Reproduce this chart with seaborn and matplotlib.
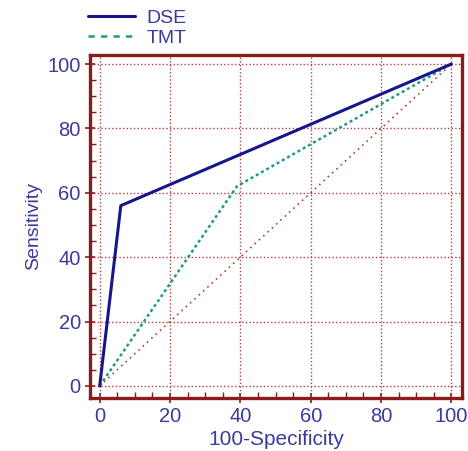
import matplotlib
matplotlib.use("Agg")
import matplotlib.pyplot as plt
import pandas as pd
import seaborn as sns
from matplotlib.ticker import MultipleLocator

# ROC points
dse_x = [0, 6, 100]
dse_y = [0, 56, 100]
tmt_x = [0, 39, 100]
tmt_y = [0, 62, 100]
ref_x = [0, 100]
ref_y = [0, 100]
ticks = [0, 20, 40, 60, 80, 100]

text_col = "#3b3b9c"
frame_col = "#8b1a1a"
grid_col = "#b04040"

sns.set_theme(style="white")
plt.rcParams["font.family"] = ["Liberation Sans", "DejaVu Sans"]

fig = plt.figure(figsize=(4.68, 4.51), dpi=100)
ax = fig.add_axes([0.192, 0.118, 0.795, 0.760])

dse = pd.DataFrame({"x": dse_x, "y": dse_y})
tmt = pd.DataFrame({"x": tmt_x, "y": tmt_y})

ax.plot(ref_x, ref_y, color=grid_col, linestyle=(0, (1, 2.5)), linewidth=1.2)
sns.lineplot(data=tmt, x="x", y="y", ax=ax, color="#1f9a8a",
             linestyle=(0, (1.2, 1.2)), linewidth=1.8, label="TMT")
sns.lineplot(data=dse, x="x", y="y", ax=ax, color="#16168a",
             linewidth=2.2, label="DSE")

ax.set_xlim(-2.8, 103)
ax.set_ylim(-3.7, 102.8)
ax.set_xticks(ticks)
ax.set_yticks(ticks)
ax.xaxis.set_minor_locator(MultipleLocator(5))
ax.yaxis.set_minor_locator(MultipleLocator(5))
ax.grid(True, which="major", color=grid_col, linestyle=(0, (1, 1.6)), linewidth=1.0)

for s in ax.spines.values():
    s.set_color(frame_col)
    s.set_linewidth(2.4)

ax.tick_params(which="major", direction="inout", length=7, width=1.2,
               color=frame_col, labelsize=14.5, labelcolor=text_col,
               bottom=True, left=True, pad=3)
ax.tick_params(which="minor", direction="in", length=4, width=1.0,
               color=frame_col, bottom=True, left=True)

ax.set_xlabel("100-Specificity", fontsize=15, color=text_col, labelpad=3)
ax.set_ylabel("Sensitivity", fontsize=14, color=text_col, labelpad=4)

# legend above the plot, DSE first
h, l = ax.get_legend_handles_labels()
order = [l.index("DSE"), l.index("TMT")]
leg = ax.legend([h[i] for i in order], [l[i] for i in order],
                loc="lower left", bbox_to_anchor=(-0.025, 1.0), frameon=False,
                fontsize=14, handlelength=2.4, handletextpad=0.6,
                labelspacing=0.15, borderaxespad=0)
for t in leg.get_texts():
    t.set_color(text_col)
leg.get_lines()[1].set_linestyle((0, (2.5, 2.5)))

fig.savefig("out.png", dpi=100)
